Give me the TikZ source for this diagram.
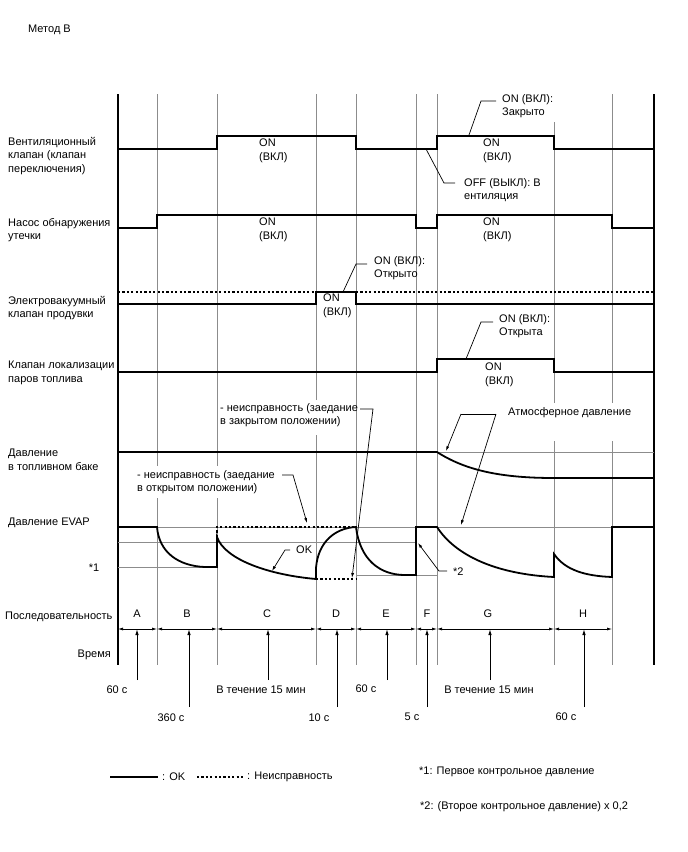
\documentclass[tikz,border=0pt]{standalone}
\usepackage{fontspec}
\setmainfont{Liberation Sans}
\usetikzlibrary{arrows.meta,positioning,calc}

\begin{document}
\begin{tikzpicture}[
    x=1pt, y=-1pt,
    txt/.style={font=\fontsize{11}{13.5}\selectfont, align=left, inner sep=1pt},
    wtxt/.style={txt, fill=white, inner xsep=2pt, inner ysep=4pt},
    sig/.style={line width=1.8pt},
    bad/.style={line width=1.8pt, dash pattern=on 2.2pt off 2.2pt},
    grid/.style={black!45, line width=0.8pt},
    axis/.style={line width=1.8pt},
    lead/.style={line width=0.7pt},
    pt/.style={lead, -{Latex[length=5pt,width=3pt]}},
    dim/.style={lead, {Latex[length=5pt,width=3pt]}-{Latex[length=5pt,width=3pt]}},
    up/.style={line width=1pt, -{Latex[length=6pt,width=3.5pt]}}
]
\useasboundingbox (0,0) rectangle (688,852);

\node[txt, anchor=west] (title) at (27,30) {Метод В};

% time grid
\foreach \gx in {157,217,356,416,437,554,612}
  \draw[grid] (\gx,94) -- (\gx,665);
\draw[grid] (316,94) -- (316,400);
\draw[grid] (316,435) -- (316,665);
\draw[axis] (118,94) -- (118,665);
\draw[axis] (654,94) -- (654,665);

% reference levels
\draw[grid] (118,527) -- (654,527);
\draw[grid] (118,542) -- (416,542);
\draw[grid] (118,567) -- (217,567);
\draw[grid] (356,575) -- (437,575);
\draw[grid] (437,452) -- (654,452);

% signal names
\node[txt, anchor=west] (lvent) at (7,156) {Вентиляционный\\клапан (клапан\\переключения)};
\node[txt, anchor=west] (lpump) at (7,230) {Насос обнаружения\\утечки};
\node[txt, anchor=west] (lpurge) at (7,308) {Электровакуумный\\клапан продувки};
\node[txt, anchor=west] (lccv) at (7,373) {Клапан локализации\\паров топлива};
\node[txt, anchor=west] (ltank) at (7,460) {Давление\\в топливном баке};
\node[txt, anchor=west] (levap) at (7,523) {Давление EVAP};
\node[txt] (lref1) at (94,568) {*1};
\node[txt, anchor=west] (lseq) at (4,617) {Последовательность};
\node[txt, anchor=east] (ltime) at (112,655) {Время};

% vent valve
\draw[sig] (118,149) -- (217,149) -- (217,136) -- (356,136) -- (356,149) -- (437,149)
    -- (437,136) -- (554,136) -- (554,149) -- (654,149);
\node[txt, anchor=west] (vent1) at (258,151) {ON\\(ВКЛ)};
\node[txt, anchor=west] (vent2) at (482,151) {ON\\(ВКЛ)};

% leak pump
\draw[sig] (118,228) -- (157,228) -- (157,215) -- (416,215) -- (416,228) -- (437,228)
    -- (437,215) -- (612,215) -- (612,228) -- (654,228);
\node[txt, anchor=west] (pump1) at (258,230) {ON\\(ВКЛ)};
\node[txt, anchor=west] (pump2) at (482,230) {ON\\(ВКЛ)};

% purge VSV
\draw[bad] (118,292) -- (316,292);
\draw[bad] (356,292) -- (654,292);
\draw[sig] (118,304) -- (316,304) -- (316,292) -- (356,292) -- (356,304) -- (654,304);
\node[txt, anchor=west] (purge1) at (322,306) {ON\\(ВКЛ)};

% canister valve
\draw[sig] (118,372) -- (437,372) -- (437,359) -- (554,359) -- (554,372) -- (654,372);
\node[txt, anchor=west] (ccv1) at (484,375) {ON\\(ВКЛ)};

% tank pressure
\draw[sig] (118,452) -- (437,452) .. controls (465,470) and (500,478) .. (554,478) -- (654,478);

% EVAP pressure
\draw[bad] (217,537) -- (217,527) -- (356,527);
\draw[bad] (316,579) -- (356,579);
\draw[sig] (118,527) -- (157,527) .. controls (159,552) and (178,566) .. (205,567) -- (217,567)
    -- (217,537) .. controls (225,560) and (270,575) .. (316,579)
    -- (316,568) .. controls (318,542) and (335,528) .. (356,527)
    .. controls (360,560) and (380,575) .. (405,575) -- (416,575) -- (416,527) -- (437,527)
    .. controls (455,555) and (495,574) .. (554,577) -- (554,554)
    .. controls (565,570) and (585,576) .. (612,577) -- (612,527) -- (654,527);

% callouts
\node[wtxt, anchor=west] (cvent) at (500,106) {ON (ВКЛ):\\Закрыто};
\coordinate (cventA) at (469,135);
\coordinate (cventB) at (481,101);
\draw[lead] (cventA) -- (cventB) -- ([xshift=-4pt]cventB -| cvent.west);

\node[txt, anchor=west] (cvoff) at (463,190) {OFF (ВЫКЛ): В\\ентиляция};
\coordinate (cvoffA) at (426,149);
\coordinate (cvoffB) at (444,183);
\draw[lead] (cvoffA) -- (cvoffB) -- ([xshift=-8pt]cvoffB -| cvoff.west);

\node[txt, anchor=west] (cpurge) at (373,268) {ON (ВКЛ):\\Открыто};
\coordinate (cpurgeA) at (343,292);
\coordinate (cpurgeB) at (356,264);
\draw[lead] (cpurgeA) -- (cpurgeB) -- ([xshift=-6pt]cpurgeB -| cpurge.west);

\node[wtxt, anchor=west] (cccv) at (497,326) {ON (ВКЛ):\\Открыта};
\coordinate (cccvA) at (466,359);
\coordinate (cccvB) at (481,322);
\draw[lead] (cccvA) -- (cccvB) -- ([xshift=-4pt]cccvB -| cccv.west);

\node[wtxt, anchor=base west, text depth=22pt] (catm) at (506,415) {Атмосферное давление};
\coordinate (catmA) at (461,414);
\coordinate (catmB) at (496,414);
\coordinate (catmP) at (446,451);
\coordinate (catmQ) at (461,525);
\draw[lead] (catmA) -- (catmB);
\draw[pt] (catmA) -- (catmP);
\draw[pt] (catmB) -- (catmQ);

\node[txt, anchor=west] (cmclosed) at (219,415) {- неисправность (заедание\\в закрытом положении)};
\coordinate (cmclosedA) at (360,409);
\coordinate (cmclosedB) at (373,409);
\coordinate (cmclosedP) at (352,578);
\draw[pt] (cmclosedA) -- (cmclosedB) -- (cmclosedP);

\node[wtxt, anchor=west] (cmopen) at (135,482) {- неисправность (заедание\\в открытом положении)};
\coordinate (cmopenA) at (282,475);
\coordinate (cmopenB) at (293,475);
\coordinate (cmopenP) at (307,523);
\draw[pt] (cmopenA) -- (cmopenB) -- (cmopenP);

\node[txt, anchor=west] (cok) at (295,550) {OK};
\coordinate (cokB) at (290,550);
\coordinate (cokA) at (285,550);
\coordinate (cokP) at (272,571);
\draw[pt] (cokB) -- (cokA) -- (cokP);

\node[txt, anchor=west] (cref2) at (452,572) {*2};
\coordinate (cref2B) at (447,571);
\coordinate (cref2A) at (439,571);
\coordinate (cref2P) at (418,543);
\draw[pt] (cref2B) -- (cref2A) -- (cref2P);

% sequence and time
\foreach \ax/\bx/\lx/\seq in {118/157/137/A,157/217/187/B,217/316/267/C,316/356/336/D,
                              356/416/386/E,416/437/427/F,437/554/488/G,554/612/583/H} {
  \coordinate (s\seq) at (\ax,629);
  \coordinate (e\seq) at (\bx,629);
  \draw[dim] (s\seq) -- (e\seq);
  \node[txt] (seq\seq) at (\lx,614) {\seq};
}
\foreach \tx/\ty/\nx/\ny/\tm/\seq in {137/680/117/690/60 с/A, 189/707/171/718/360 с/B,
                                      268/680/261/690/В течение 15 мин/C, 337/707/319/718/10 с/D,
                                      387/680/366/689/60 с/E, 427/707/412/717/5 с/F,
                                      490/680/489/690/В течение 15 мин/G, 584/707/566/717/60 с/H} {
  \coordinate (b\seq) at (\tx,\ty);
  \coordinate (h\seq) at (\tx,629);
  \draw[up] (b\seq) -- (h\seq);
  \node[txt] (time\seq) at (\nx,\ny) {\tm};
}

% legend
\coordinate (lgokA) at (110,777);
\coordinate (lgokB) at (158,777);
\draw[sig] (lgokA) -- (lgokB);
\node[txt, anchor=west] (lgok) at (161,777) {: OK};
\coordinate (lgbadA) at (197,777);
\coordinate (lgbadB) at (243,777);
\draw[bad] (lgbadA) -- (lgbadB);
\node[txt, anchor=west] (lgbad) at (246,777) {: Неисправность};
\node[txt, anchor=west] (note1) at (418,772) {*1: Первое контрольное давление};
\node[txt, anchor=west] (note2) at (419,807) {*2: (Второе контрольное давление) x 0,2};
\end{tikzpicture}
\end{document}
